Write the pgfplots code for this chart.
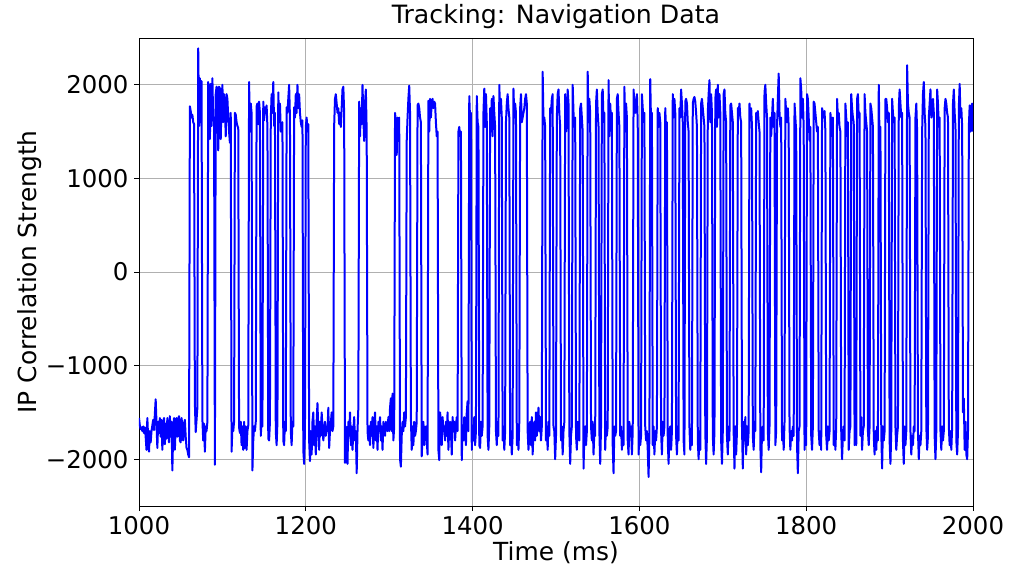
\documentclass[border=0pt]{standalone}
\usepackage{fontspec}
\setmainfont{DejaVu Sans}
\usepackage{pgfplots}
\pgfplotsset{compat=1.18}
\definecolor{gridgray}{RGB}{176,176,176}
\begin{document}
\begin{tikzpicture}
\path[use as bounding box] (-139bp,-67bp) rectangle (872bp,506bp);
\begin{axis}[
  at={(0,0)}, anchor=south west,
  scale only axis, width=834bp, height=468bp,
  xmin=1000, xmax=2000, ymin=-2500, ymax=2500,
  xtick={1000,1200,1400,1600,1800,2000},
  xticklabels={1000,1200,1400,1600,1800,2000},
  ytick={-2000,-1000,0,1000,2000},
  yticklabels={−2000,−1000,0,1000,2000},
  tick pos=left, tick align=outside,
  major tick length=5bp,
  every tick/.style={black, line width=0.8bp},
  ticklabel style={font=\fontsize{24.5}{29}\selectfont},
  xticklabel style={yshift=-2bp},
  yticklabel style={xshift=-2bp},
  grid=major,
  grid style={gridgray, line width=0.8bp},
  axis line style={black, line width=0.9bp},
  title={Tracking: Navigation Data},
  title style={at={(axis description cs:0.5,1.019)}, anchor=base, font=\fontsize{25.3}{30}\selectfont},
  xlabel={Time (ms)},
  xlabel style={at={(axis description cs:0.5,-0.100)}, anchor=center, font=\fontsize{25}{30}\selectfont},
  ylabel={IP Correlation Strength},
  ylabel style={at={(axis description cs:-0.131,0.5)}, anchor=center, rotate=0, font=\fontsize{25}{30}\selectfont},
]
\addplot[blue, line width=2bp, line join=round] coordinates {
(1000,-1560)(1001,-1640)(1002,-1680)(1003,-1660)(1004,-1700)(1005,-1650)(1006,-1720)(1007,-1660)(1008,-1760)(1009,-1900)
(1010,-1560)(1011,-1780)(1012,-1920)(1013,-1700)(1014,-1820)(1015,-1700)(1016,-1640)(1017,-1580)(1018,-1690)(1019,-1520)
(1020,-1360)(1021,-1620)(1022,-1880)(1023,-1600)(1024,-1720)(1025,-1560)(1026,-1760)(1027,-1580)(1028,-1900)(1029,-1640)
(1030,-1560)(1031,-1840)(1032,-1620)(1033,-1780)(1034,-1560)(1035,-1700)(1036,-1820)(1037,-1540)(1038,-1760)(1039,-1600)
(1040,-2120)(1041,-1700)(1042,-1560)(1043,-1900)(1044,-1640)(1045,-1560)(1046,-1760)(1047,-1580)(1048,-1540)(1049,-1800)
(1050,-1820)(1051,-1560)(1052,-1640)(1053,-1800)(1054,-1620)(1055,-1580)(1056,-1760)(1057,-1880)(1058,-1900)(1059,-1950)(1060,-1980)
(1061,1770)(1062,1720)(1063,1650)(1064,1680)(1065,1600)(1066,1580)(1067,-1400)(1068,-1710)(1069,-1580)(1070,-1450)
(1071,2390)(1072,1560)(1073,2070)(1074,1600)(1075,2040)(1076,-1570)(1077,-1800)(1078,-1620)(1079,-1920)(1080,-1650)(1081,-1700)(1082,-1600)
(1083,2030)(1084,1700)(1085,1420)(1086,2010)(1087,1560)(1088,2070)(1089,1620)(1090,1650)(1091,-2060)
(1092,1900)(1093,1980)(1094,1950)(1095,1300)(1096,1980)(1097,1960)(1098,1420)(1099,1820)(1100,2000)(1101,1600)(1102,1900)
(1103,1780)(1104,1450)(1105,1900)(1106,1850)(1107,1650)(1108,1500)(1109,1380)(1110,1700)(1111,-1920)(1112,-1650)(1113,-1700)(1114,-1600)
(1115,1700)(1116,1680)(1117,1600)(1118,1560)(1119,1540)(1120,-1660)
(1121,-1720)(1122,-1600)(1123,-1850)(1124,-1650)(1125,-1900)(1126,-1600)(1127,-1880)(1128,-1650)(1129,-1900)(1130,-1700)(1131,-1640)
(1132,2030)(1133,1500)(1134,1800)(1135,1700)(1136,-2120)(1137,-1800)(1138,-1650)(1139,-1700)(1140,-1600)
(1141,1770)(1142,1800)(1143,1580)(1144,1820)(1145,1700)(1146,-1750)(1147,-1600)(1148,-1650)
(1149,1820)(1150,1620)(1151,1760)(1152,1700)(1153,1780)(1154,1550)(1155,-1780)(1156,-1800)(1157,-1600)
(1158,1620)(1159,1900)(1160,1700)(1161,2030)(1162,1560)(1163,1700)(1164,-1700)(1165,-1850)(1166,-1600)
(1167,1920)(1168,1600)(1169,1800)(1170,1500)(1171,1540)(1172,1600)(1173,-1800)(1174,-1850)(1175,-1600)(1176,-1700)
(1177,1760)(1178,1700)(1179,1850)(1180,2000)(1181,1650)(1182,-1700)(1183,-1850)(1184,-1600)(1185,-1650)
(1186,1760)(1187,1650)(1188,1900)(1189,1700)(1190,2000)(1191,1750)(1192,1900)(1193,1700)(1194,1600)(1195,1550)(1196,1620)(1197,-1900)(1198,-2050)(1199,-1700)
(1200,1550)(1201,1650)(1202,1500)(1203,1580)(1204,-1800)(1205,-2020)
(1206,-1700)(1207,-1950)(1208,-1600)(1209,-1500)(1210,-1850)(1211,-1650)(1212,-1950)(1213,-1600)(1214,-1400)(1215,-1700)
(1216,-1900)(1217,-1600)(1218,-1750)(1219,-1500)(1220,-1650)(1221,-1800)(1222,-1700)(1223,-1600)(1224,-1750)(1225,-1650)
(1226,-1700)(1227,-1450)(1228,-1880)(1229,-1700)(1230,-1620)(1231,-1500)(1232,-1700)(1233,-1650)
(1234,1560)(1235,1850)(1236,1900)(1237,1800)(1238,1700)(1239,1750)(1240,1580)(1241,1700)(1242,1550)(1243,1750)(1244,1950)(1245,1980)(1246,1700)(1247,-2040)
(1248,-1650)(1249,-1900)(1250,-2050)(1251,-1600)(1252,-1750)(1253,-1500)(1254,-1850)(1255,-1650)(1256,-1900)(1257,-1700)
(1258,-1550)(1259,-1800)(1260,-1700)(1261,-2150)(1262,-1700)(1263,-1450)
(1264,1820)(1265,1450)(1266,1750)(1267,1580)(1268,2000)(1269,1650)(1270,1400)(1271,1800)(1272,1950)(1273,1500)(1274,-1700)(1275,-1800)
(1276,-1650)(1277,-1850)(1278,-1600)(1279,-1750)(1280,-1550)(1281,-1880)(1282,-1650)(1283,-1500)(1284,-1800)(1285,-1650)
(1286,-1900)(1287,-1600)(1288,-1700)(1289,-1550)(1290,-1800)(1291,-1650)(1292,-1900)(1293,-1600)(1294,-1700)(1295,-1750)
(1296,-1600)(1297,-1650)(1298,-1700)(1299,-1550)(1300,-1700)(1301,-1450)(1302,-1350)(1303,-1700)(1304,-1300)(1305,-1800)(1306,-1650)
(1307,1700)(1308,1600)(1309,1250)(1310,1650)(1311,1500)(1312,1650)(1313,-2000)(1314,-2080)
(1315,-1750)(1316,-1600)(1317,-1700)(1318,-1500)(1319,-1650)(1320,-1550)
(1321,1400)(1322,1650)(1323,1850)(1324,1990)(1325,1700)(1326,-1550)(1327,-1900)(1328,-1650)(1329,-1850)(1330,-1600)(1331,-1750)(1332,-1700)(1333,-1600)
(1334,1780)(1335,1800)(1336,1750)(1337,1650)(1338,1600)(1339,-1970)(1340,-1750)(1341,-1600)(1342,-1850)(1343,-1700)(1344,-1650)(1345,-1800)(1346,-1950)
(1347,1830)(1348,1500)(1349,1850)(1350,1650)(1351,1800)(1352,1850)(1353,1750)(1354,1820)(1355,1800)(1356,1600)(1357,1450)(1358,1500)(1359,-1900)(1360,-2010)
(1361,-1500)(1362,-1600)(1363,-1850)(1364,-1550)(1365,-1700)(1366,-1650)(1367,-1800)(1368,-1600)(1369,-1750)(1370,-1500)
(1371,-1900)(1372,-1650)(1373,-1600)(1374,-1700)(1375,-1950)(1376,-1550)(1377,-1700)(1378,-1600)(1379,-1800)(1380,-1650)(1381,-1550)(1382,-1700)
(1383,1500)(1384,1550)(1385,1450)(1386,1500)(1387,-2010)(1388,-1650)(1389,-1800)(1390,-1550)(1391,-1700)(1392,-1850)(1393,-1500)(1394,-1380)(1395,-1700)
(1396,1880)(1397,1620)(1398,1700)(1399,-1900)(1400,-1650)(1401,-1800)(1402,-1550)(1403,-1850)(1404,-1700)
(1405,1880)(1406,1600)(1407,1550)(1408,-1850)(1409,-1880)(1410,-1600)(1411,-1750)(1412,-1650)
(1413,1700)(1414,1960)(1415,1550)(1416,1900)(1417,1600)(1418,-1750)(1419,-1900)(1420,-1650)
(1421,1750)(1422,1500)(1423,1850)(1424,1450)(1425,1880)(1426,1700)(1427,1550)(1428,-1700)(1429,-1850)(1430,-1600)(1431,-1750)
(1432,2000)(1433,1700)(1434,1850)(1435,1650)(1436,-1800)(1437,-1650)(1438,-1900)(1439,-1700)
(1440,1600)(1441,1800)(1442,1900)(1443,1750)(1444,1650)(1445,-1850)(1446,-1700)(1447,-1950)(1448,-1750)
(1449,1960)(1450,1650)(1451,1800)(1452,1700)(1453,-1850)(1454,-1650)(1455,-1900)(1456,-1600)
(1457,1750)(1458,1900)(1459,1600)(1460,1650)(1461,1700)(1462,1750)(1463,1850)(1464,1900)(1465,1800)(1466,-1700)
(1467,-1900)(1468,-1650)(1469,-1600)(1470,-1850)(1471,-1550)(1472,-1950)(1473,-1700)(1474,-1600)(1475,-1800)(1476,-1500)
(1477,-1750)(1478,-1600)(1479,-1450)(1480,-1700)(1481,-1550)(1482,-1800)(1483,-1650)
(1484,2140)(1485,1600)(1486,1650)(1487,1550)(1488,-1800)(1489,-1650)(1490,-1900)(1491,-1600)(1492,-1750)
(1493,1750)(1494,1700)(1495,1850)(1496,1900)(1497,-1650)(1498,-1700)(1499,-2000)(1500,-1750)
(1501,1650)(1502,1900)(1503,1950)(1504,1700)(1505,1550)(1506,-1800)(1507,-1650)(1508,-1950)(1509,-1700)(1510,-1600)
(1511,1900)(1512,1500)(1513,1600)(1514,1950)(1515,1800)(1516,-1700)(1517,-2050)(1518,-1750)(1519,-1650)
(1520,2000)(1521,1700)(1522,1550)(1523,1650)(1524,-1750)(1525,-1900)(1526,-1600)(1527,-1700)(1528,-1800)
(1529,1750)(1530,1800)(1531,1650)(1532,1500)(1533,-2100)(1534,-1750)(1535,-1650)(1536,-1850)(1537,-1700)
(1538,2140)(1539,1600)(1540,1850)(1541,1700)(1542,-1650)(1543,-1800)(1544,-1600)(1545,-1950)(1546,-1700)(1547,-1750)
(1548,1800)(1549,1950)(1550,1700)(1551,1550)(1552,-1700)(1553,-2050)(1554,-1650)
(1555,1900)(1556,1950)(1557,1600)(1558,1700)(1559,-1900)(1560,-1600)(1561,-1750)(1562,-1650)
(1563,2050)(1564,1450)(1565,1800)(1566,1600)(1567,1700)(1568,-1850)(1569,-2150)(1570,-1650)(1571,-1750)(1572,-1700)
(1573,1850)(1574,1900)(1575,1700)(1576,1550)(1577,-1750)(1578,-1650)(1579,-1900)(1580,-1700)(1581,-1850)
(1582,1980)(1583,1500)(1584,1800)(1585,1650)(1586,-1800)(1587,-1950)(1588,-1600)(1589,-1750)(1590,-1650)(1591,-1950)(1592,-1700)
(1593,1950)(1594,1800)(1595,1700)(1596,1800)(1597,1900)(1598,1600)(1599,-1950)(1600,-1700)(1601,-1850)(1602,-1750)
(1603,1900)(1604,1750)(1605,1600)(1606,1700)(1607,-1650)(1608,-1800)(1609,-1700)(1610,-1900)(1611,-2190)(1612,-1750)
(1613,2060)(1614,1550)(1615,1700)(1616,-1850)(1617,-1650)(1618,-1950)(1619,-1700)(1620,-1800)(1621,-1650)
(1622,1750)(1623,1550)(1624,1700)(1625,1600)(1626,-1700)(1627,-1950)(1628,-1600)(1629,-1750)(1630,-1650)
(1631,1750)(1632,1500)(1633,1600)(1634,-1800)(1635,-2050)(1636,-1700)(1637,-1650)(1638,-1900)(1639,-1700)
(1640,1900)(1641,1650)(1642,1850)(1643,1700)(1644,-1750)(1645,-1950)(1646,-1650)(1647,-1800)
(1648,1750)(1649,1650)(1650,1950)(1651,1800)(1652,1600)(1653,-1800)(1654,-1950)
(1655,1820)(1656,1850)(1657,1800)(1658,1600)(1659,1500)(1660,-1650)(1661,-1900)(1662,-1750)(1663,-1850)
(1664,1800)(1665,1850)(1666,1870)(1667,1820)(1668,1700)(1669,1550)(1670,-1800)(1671,-2000)(1672,-1700)(1673,-1900)
(1674,1800)(1675,1850)(1676,1750)(1677,1650)(1678,1550)(1679,-1700)(1680,-2050)(1681,-1750)
(1682,1700)(1683,1900)(1684,2050)(1685,1600)(1686,1900)(1687,1700)(1688,-1750)(1689,-1950)(1690,-1700)
(1691,1850)(1692,1950)(1693,1550)(1694,2000)(1695,1650)(1696,1900)(1697,1700)(1698,-1800)(1699,-2050)(1700,-1700)
(1701,1900)(1702,1950)(1703,1700)(1704,1600)(1705,-1750)(1706,-1950)(1707,-1650)(1708,-1800)
(1709,1780)(1710,1800)(1711,1700)(1712,1600)(1713,-1700)(1714,-2100)(1715,-1650)(1716,-1950)(1717,-1700)
(1718,1750)(1719,1700)(1720,1800)(1721,1650)(1722,1600)(1723,-1650)(1724,-2100)(1725,-1600)(1726,-1800)(1727,-1550)(1728,-1950)(1729,-1650)(1730,-1850)(1731,-1700)
(1732,1800)(1733,1650)(1734,1750)(1735,1550)(1736,-1750)(1737,-1900)(1738,-1600)(1739,-1700)
(1740,1700)(1741,1650)(1742,1720)(1743,1600)(1744,1500)(1745,-1850)(1746,-2140)(1747,-1700)(1748,-1650)(1749,-1800)
(1750,1920)(1751,2000)(1752,1800)(1753,1650)(1754,-1700)(1755,-1900)(1756,-1650)
(1757,1650)(1758,1450)(1759,1650)(1760,1850)(1761,1550)(1762,1700)(1763,-1850)(1764,-1700)
(1765,1550)(1766,1850)(1767,2120)(1768,1700)(1769,1550)(1770,1650)(1771,-1800)(1772,-1650)(1773,-1900)(1774,-1600)
(1775,1850)(1776,1700)(1777,1600)(1778,1750)(1779,1550)(1780,-1650)(1781,-1900)(1782,-1700)(1783,-1800)(1784,-1650)(1785,-1750)
(1786,1800)(1787,1650)(1788,1500)(1789,-1850)(1790,-2150)(1791,-1700)(1792,-1650)
(1793,2070)(1794,1950)(1795,1650)(1796,1850)(1797,1550)(1798,-1900)(1799,-1700)(1800,-1850)
(1801,1900)(1802,1850)(1803,1650)(1804,1400)(1805,1550)(1806,-1750)(1807,-1900)(1808,-1650)
(1809,1820)(1810,1800)(1811,1700)(1812,1600)(1813,1500)(1814,1550)(1815,-1700)(1816,-1850)(1817,-1700)(1818,-1900)
(1819,1750)(1820,1700)(1821,1650)(1822,1720)(1823,1500)(1824,-1750)(1825,-1900)(1826,-1650)(1827,-1800)(1828,-1700)
(1829,1700)(1830,1600)(1831,1450)(1832,1650)(1833,-1850)(1834,-1700)(1835,-1900)(1836,-1650)
(1837,1850)(1838,1650)(1839,1700)(1840,1550)(1841,1500)(1842,-1700)(1843,-2000)(1844,-1750)(1845,-1650)(1846,-1800)
(1847,1800)(1848,1650)(1849,1450)(1850,1600)(1851,-1900)(1852,-1700)(1853,-1650)
(1854,1900)(1855,1750)(1856,1650)(1857,1600)(1858,-1850)(1859,-1700)(1860,-1850)
(1861,1850)(1862,1900)(1863,1650)(1864,1700)(1865,-1750)(1866,-1550)(1867,-1900)(1868,-1700)(1869,-1650)
(1870,1900)(1871,1700)(1872,1600)(1873,1500)(1874,-1700)(1875,-1850)(1876,-1650)
(1877,1800)(1878,1750)(1879,1650)(1880,1550)(1881,-1750)(1882,-1950)(1883,-1700)(1884,-1900)(1885,-1650)(1886,-1800)
(1887,2000)(1888,1350)(1889,1550)(1890,-1700)(1891,-2100)(1892,-1650)(1893,-1800)(1894,-1700)
(1895,1850)(1896,1850)(1897,1750)(1898,1600)(1899,1700)(1900,-1800)(1901,-2050)(1902,-1700)
(1903,1850)(1904,1700)(1905,1600)(1906,1650)(1907,-1650)(1908,-1900)(1909,-1750)(1910,-1650)
(1911,1750)(1912,1950)(1913,1800)(1914,1650)(1915,1700)(1916,-1800)(1917,-2050)(1918,-1650)(1919,-1850)(1920,-1700)
(1921,2210)(1922,1800)(1923,1700)(1924,1650)(1925,-1700)(1926,-1950)(1927,-1750)(1928,-1850)(1929,-1650)(1930,-1700)
(1931,1650)(1932,1800)(1933,1500)(1934,-1700)(1935,-2000)(1936,-1750)(1937,-1850)(1938,-1700)
(1939,1500)(1940,1900)(1941,2030)(1942,1700)(1943,1550)(1944,-1650)(1945,-1900)(1946,-1750)
(1947,1650)(1948,1800)(1949,1950)(1950,1650)(1951,1700)(1952,1850)(1953,1700)(1954,-1750)(1955,-2000)(1956,-1700)
(1957,1950)(1958,1800)(1959,1550)(1960,1650)(1961,-1700)(1962,-1900)(1963,-1650)(1964,-1800)(1965,-1700)
(1966,1750)(1967,1850)(1968,1800)(1969,1700)(1970,1650)(1971,-1650)(1972,-1850)(1973,-1700)(1974,-1900)(1975,-1650)
(1976,1800)(1977,1950)(1978,1700)(1979,1550)(1980,-1800)(1981,-1950)(1982,-1700)
(1983,1750)(1984,2010)(1985,1650)(1986,1750)(1987,1550)(1988,-1500)(1989,-1350)(1990,-1900)(1991,-1600)(1992,-1950)(1993,-2000)(1994,-1700)
(1995,1550)(1996,1780)(1997,1500)(1998,1750)(1999,1800)(2000,1500)
};
\end{axis}
\end{tikzpicture}
\end{document}
